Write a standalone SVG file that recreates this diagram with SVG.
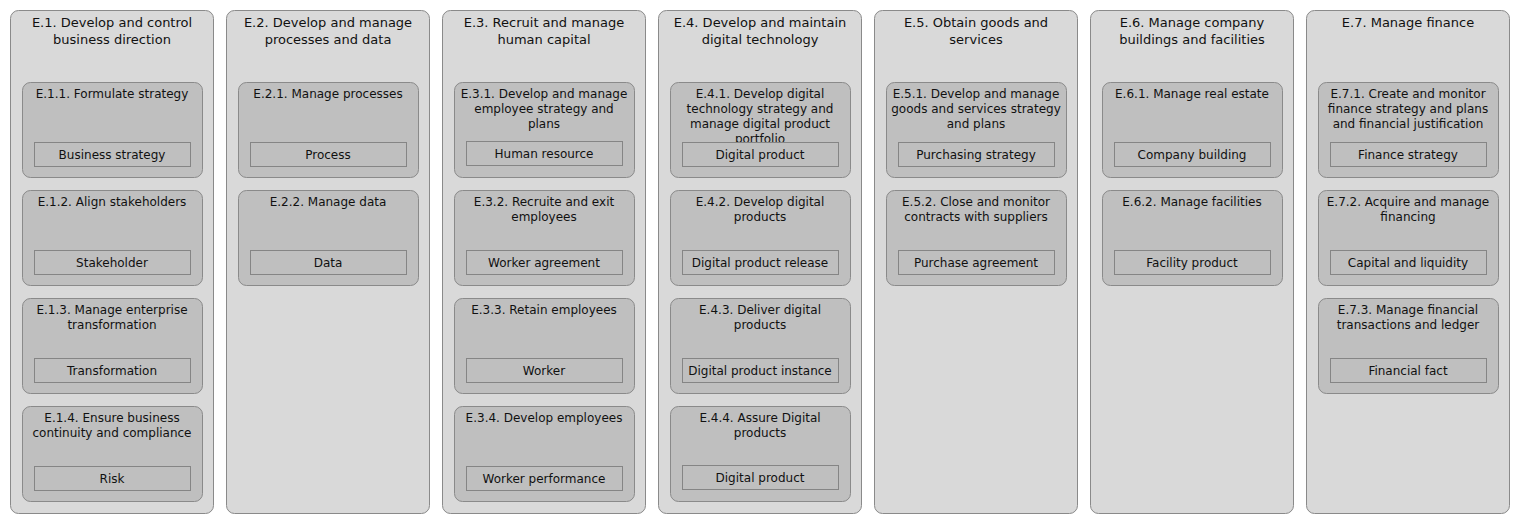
<svg xmlns="http://www.w3.org/2000/svg" width="1520" height="525" viewBox="0 0 1520 525">
<style>
text{font-family:"DejaVu Sans","Liberation Sans",sans-serif;fill:#111;text-anchor:middle}
.o{fill:#d9d9d9;stroke:#8a8a8a;stroke-width:1}
.i{fill:#bfbfbf;stroke:#8a8a8a;stroke-width:1}
.l{fill:#bfbfbf;stroke:#858585;stroke-width:1}
.ot{font-size:13px}
.it{font-size:12px}
.lt{font-size:12px}
</style>
<rect width="1520" height="525" fill="#ffffff"/>

<!-- E.1 -->
<g id="E1">
<rect class="o" x="10.5" y="10.5" width="203" height="503" rx="8"/>
<text class="ot" x="112" y="27">E.1. Develop and control</text>
<text class="ot" x="112" y="44">business direction</text>
</g>
<g id="E1_1">
<rect class="i" x="22.5" y="82.5" width="180" height="95" rx="8"/>
<text class="it" x="112" y="98">E.1.1. Formulate strategy</text>
<rect class="l" x="34.5" y="142.5" width="156" height="24"/>
<text class="lt" x="112" y="159">Business strategy</text>
</g>
<g id="E1_2">
<rect class="i" x="22.5" y="190.5" width="180" height="95" rx="8"/>
<text class="it" x="112" y="206">E.1.2. Align stakeholders</text>
<rect class="l" x="34.5" y="250.5" width="156" height="24"/>
<text class="lt" x="112" y="267">Stakeholder</text>
</g>
<g id="E1_3">
<rect class="i" x="22.5" y="298.5" width="180" height="95" rx="8"/>
<text class="it" x="112" y="314">E.1.3. Manage enterprise</text>
<text class="it" x="112" y="329">transformation</text>
<rect class="l" x="34.5" y="358.5" width="156" height="24"/>
<text class="lt" x="112" y="375">Transformation</text>
</g>
<g id="E1_4">
<rect class="i" x="22.5" y="406.5" width="180" height="95" rx="8"/>
<text class="it" x="112" y="422">E.1.4. Ensure business</text>
<text class="it" x="112" y="437">continuity and compliance</text>
<rect class="l" x="34.5" y="466.5" width="156" height="24"/>
<text class="lt" x="112" y="483">Risk</text>
</g>

<!-- E.2 -->
<g id="E2">
<rect class="o" x="226.5" y="10.5" width="203" height="503" rx="8"/>
<text class="ot" x="328" y="27">E.2. Develop and manage</text>
<text class="ot" x="328" y="44">processes and data</text>
</g>
<g id="E2_1">
<rect class="i" x="238.5" y="82.5" width="180" height="95" rx="8"/>
<text class="it" x="328" y="98">E.2.1. Manage processes</text>
<rect class="l" x="250.5" y="142.5" width="156" height="24"/>
<text class="lt" x="328" y="159">Process</text>
</g>
<g id="E2_2">
<rect class="i" x="238.5" y="190.5" width="180" height="95" rx="8"/>
<text class="it" x="328" y="206">E.2.2. Manage data</text>
<rect class="l" x="250.5" y="250.5" width="156" height="24"/>
<text class="lt" x="328" y="267">Data</text>
</g>

<!-- E.3 -->
<g id="E3">
<rect class="o" x="442.5" y="10.5" width="203" height="503" rx="8"/>
<text class="ot" x="544" y="27">E.3. Recruit and manage</text>
<text class="ot" x="544" y="44">human capital</text>
</g>
<g id="E3_1">
<rect class="i" x="454.5" y="82.5" width="180" height="95" rx="8"/>
<text class="it" x="544" y="98">E.3.1. Develop and manage</text>
<text class="it" x="544" y="113">employee strategy and</text>
<text class="it" x="544" y="128">plans</text>
<rect class="l" x="466.5" y="141.5" width="156" height="24"/>
<text class="lt" x="544" y="158">Human resource</text>
</g>
<g id="E3_2">
<rect class="i" x="454.5" y="190.5" width="180" height="95" rx="8"/>
<text class="it" x="544" y="206">E.3.2. Recruite and exit</text>
<text class="it" x="544" y="221">employees</text>
<rect class="l" x="466.5" y="250.5" width="156" height="24"/>
<text class="lt" x="544" y="267">Worker agreement</text>
</g>
<g id="E3_3">
<rect class="i" x="454.5" y="298.5" width="180" height="95" rx="8"/>
<text class="it" x="544" y="314">E.3.3. Retain employees</text>
<rect class="l" x="466.5" y="358.5" width="156" height="24"/>
<text class="lt" x="544" y="375">Worker</text>
</g>
<g id="E3_4">
<rect class="i" x="454.5" y="406.5" width="180" height="95" rx="8"/>
<text class="it" x="544" y="422">E.3.4. Develop employees</text>
<rect class="l" x="466.5" y="466.5" width="156" height="24"/>
<text class="lt" x="544" y="483">Worker performance</text>
</g>

<!-- E.4 -->
<g id="E4">
<rect class="o" x="658.5" y="10.5" width="203" height="503" rx="8"/>
<text class="ot" x="760" y="27">E.4. Develop and maintain</text>
<text class="ot" x="760" y="44">digital technology</text>
</g>
<g id="E4_1">
<rect class="i" x="670.5" y="82.5" width="180" height="95" rx="8"/>
<text class="it" x="760" y="98">E.4.1. Develop digital</text>
<text class="it" x="760" y="113">technology strategy and</text>
<text class="it" x="760" y="128">manage digital product</text>
<text class="it" x="760" y="143">portfolio</text>
<rect class="l" x="682.5" y="142.5" width="156" height="24"/>
<text class="lt" x="760" y="159">Digital product</text>
</g>
<g id="E4_2">
<rect class="i" x="670.5" y="190.5" width="180" height="95" rx="8"/>
<text class="it" x="760" y="206">E.4.2. Develop digital</text>
<text class="it" x="760" y="221">products</text>
<rect class="l" x="682.5" y="250.5" width="156" height="24"/>
<text class="lt" x="760" y="267">Digital product release</text>
</g>
<g id="E4_3">
<rect class="i" x="670.5" y="298.5" width="180" height="95" rx="8"/>
<text class="it" x="760" y="314">E.4.3. Deliver digital</text>
<text class="it" x="760" y="329">products</text>
<rect class="l" x="682.5" y="358.5" width="156" height="24"/>
<text class="lt" x="760" y="375">Digital product instance</text>
</g>
<g id="E4_4">
<rect class="i" x="670.5" y="406.5" width="180" height="95" rx="8"/>
<text class="it" x="760" y="422">E.4.4. Assure Digital</text>
<text class="it" x="760" y="437">products</text>
<rect class="l" x="682.5" y="465.5" width="156" height="24"/>
<text class="lt" x="760" y="482">Digital product</text>
</g>

<!-- E.5 -->
<g id="E5">
<rect class="o" x="874.5" y="10.5" width="203" height="503" rx="8"/>
<text class="ot" x="976" y="27">E.5. Obtain goods and</text>
<text class="ot" x="976" y="44">services</text>
</g>
<g id="E5_1">
<rect class="i" x="886.5" y="82.5" width="180" height="95" rx="8"/>
<text class="it" x="976" y="98">E.5.1. Develop and manage</text>
<text class="it" x="976" y="113">goods and services strategy</text>
<text class="it" x="976" y="128">and plans</text>
<rect class="l" x="898.5" y="142.5" width="156" height="24"/>
<text class="lt" x="976" y="159">Purchasing strategy</text>
</g>
<g id="E5_2">
<rect class="i" x="886.5" y="190.5" width="180" height="95" rx="8"/>
<text class="it" x="976" y="206">E.5.2. Close and monitor</text>
<text class="it" x="976" y="221">contracts with suppliers</text>
<rect class="l" x="898.5" y="250.5" width="156" height="24"/>
<text class="lt" x="976" y="267">Purchase agreement</text>
</g>

<!-- E.6 -->
<g id="E6">
<rect class="o" x="1090.5" y="10.5" width="203" height="503" rx="8"/>
<text class="ot" x="1192" y="27">E.6. Manage company</text>
<text class="ot" x="1192" y="44">buildings and facilities</text>
</g>
<g id="E6_1">
<rect class="i" x="1102.5" y="82.5" width="180" height="95" rx="8"/>
<text class="it" x="1192" y="98">E.6.1. Manage real estate</text>
<rect class="l" x="1114.5" y="142.5" width="156" height="24"/>
<text class="lt" x="1192" y="159">Company building</text>
</g>
<g id="E6_2">
<rect class="i" x="1102.5" y="190.5" width="180" height="95" rx="8"/>
<text class="it" x="1192" y="206">E.6.2. Manage facilities</text>
<rect class="l" x="1114.5" y="250.5" width="156" height="24"/>
<text class="lt" x="1192" y="267">Facility product</text>
</g>

<!-- E.7 -->
<g id="E7">
<rect class="o" x="1306.5" y="10.5" width="203" height="503" rx="8"/>
<text class="ot" x="1408" y="27">E.7. Manage finance</text>
</g>
<g id="E7_1">
<rect class="i" x="1318.5" y="82.5" width="180" height="95" rx="8"/>
<text class="it" x="1408" y="98">E.7.1. Create and monitor</text>
<text class="it" x="1408" y="113">finance strategy and plans</text>
<text class="it" x="1408" y="128">and financial justification</text>
<rect class="l" x="1330.5" y="142.5" width="156" height="24"/>
<text class="lt" x="1408" y="159">Finance strategy</text>
</g>
<g id="E7_2">
<rect class="i" x="1318.5" y="190.5" width="180" height="95" rx="8"/>
<text class="it" x="1408" y="206">E.7.2. Acquire and manage</text>
<text class="it" x="1408" y="221">financing</text>
<rect class="l" x="1330.5" y="250.5" width="156" height="24"/>
<text class="lt" x="1408" y="267">Capital and liquidity</text>
</g>
<g id="E7_3">
<rect class="i" x="1318.5" y="298.5" width="180" height="95" rx="8"/>
<text class="it" x="1408" y="314">E.7.3. Manage financial</text>
<text class="it" x="1408" y="329">transactions and ledger</text>
<rect class="l" x="1330.5" y="358.5" width="156" height="24"/>
<text class="lt" x="1408" y="375">Financial fact</text>
</g>

<g id="connectors"></g>
</svg>
